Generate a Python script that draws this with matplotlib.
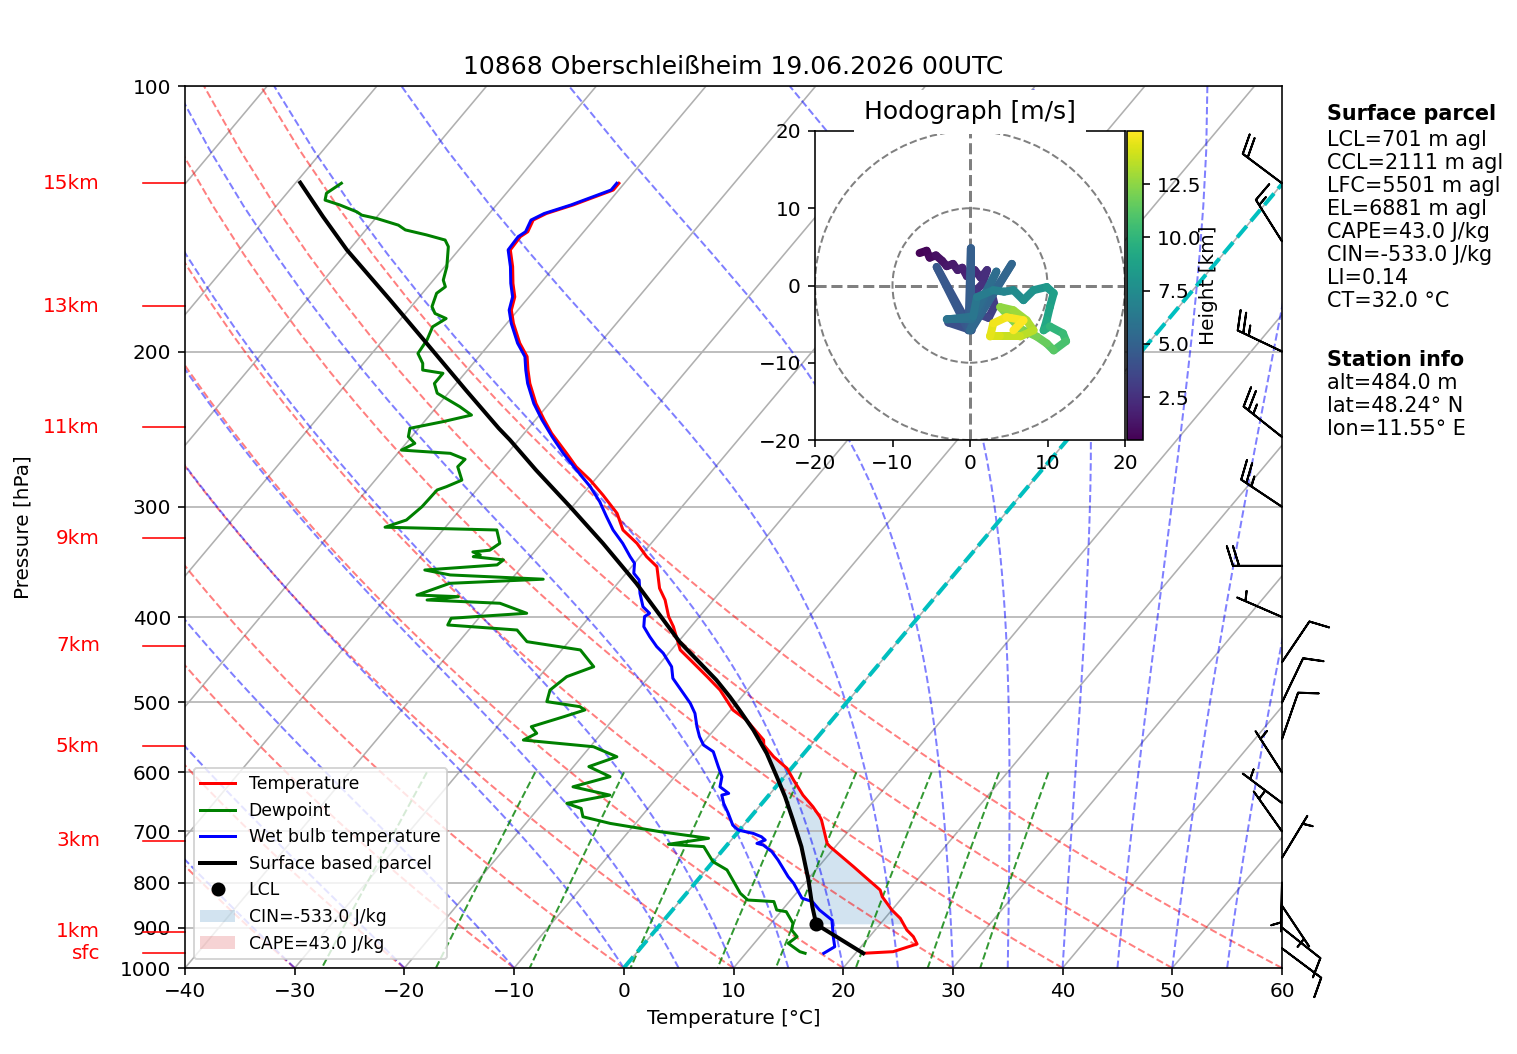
import numpy as np
import matplotlib
matplotlib.use('Agg')
import matplotlib.pyplot as plt
from matplotlib.collections import LineCollection
from matplotlib.patches import Circle
from matplotlib.ticker import NullLocator

# sounding: pressure [hPa], temperature [degC]
p_temp = [962.3, 958.3, 939.3, 921.5, 905.7, 878.3, 859.5, 830.1, 815.8, 781.2, 767.7, 728.4, 722.3,
          679.6, 673.8, 656.4, 636.8, 612.3, 593.8, 576.1, 558.7, 551.5, 523.4, 509.9, 484.0, 467.4,
          447.5, 435.9, 410.2, 399.6, 382.6, 371.1, 350.7, 341.7, 330.0, 318.7, 305.2, 290.9, 279.8,
          270.2, 260.9, 247.6, 239.1, 229.1, 217.4, 209.9, 202.7, 195.7, 185.8, 179.5, 173.4, 167.4,
          160.3, 153.4, 148.2, 146.3, 141.9, 139.5, 136.4, 134.7, 131.2, 128.9]
temp = [20.7, 23.3, 24.9, 24.0, 22.9, 21.4, 20.0, 18.1, 17.4, 14.4, 13.2, 9.5, 9.0,
        6.7, 6.3, 4.9, 3.1, 1.1, -0.4, -2.5, -4.3, -4.7, -7.8, -9.8, -12.5, -14.7,
        -17.5, -19.2, -21.6, -22.8, -24.4, -25.8, -27.7, -29.4, -31.3, -33.6, -35.4, -38.1, -40.4,
        -42.7, -44.6, -47.5, -49.2, -51.2, -53.3, -54.5, -55.6, -57.3, -59.4, -60.6, -61.3, -62.5,
        -63.8, -65.3, -65.4, -65.1, -65.5, -64.8, -63.0, -62.2, -60.5, -60.5]

p_dew = [962.3, 958.3, 937.6, 921.5, 905.7, 889.9, 863.3, 859.5, 840.8, 837.4, 822.8, 794.8, 774.1,
         757.7, 728.4, 724.0, 712.8, 700.6, 685.6, 673.8, 659.3, 650.6, 636.8, 623.1, 606.8, 591.1,
         576.1, 561.2, 551.5, 541.9, 532.6, 518.9, 509.9, 505.5, 498.9, 484.0, 467.4, 455.4, 447.5,
         435.9, 426.6, 413.8, 408.4, 401.3, 396.1, 385.9, 382.6, 379.3, 377.7, 366.3, 362.4, 358.4,
         353.8, 349.1, 344.6, 341.7, 340.1, 337.5, 336.0, 330.0, 318.7, 316.4, 310.5, 299.9, 287.1,
         284.6, 279.8, 270.2, 265.0, 260.9, 258.7, 254.2, 249.8, 244.4, 240.2, 236.1, 231.0, 223.0,
         217.4, 211.7, 209.9, 206.3, 201.0, 194.1, 187.5, 183.5, 181.1, 177.9, 171.8, 168.9, 166.0,
         160.3, 152.1, 149.5, 147.5, 145.6, 143.8, 141.3, 140.1, 138.9, 136.4, 134.7, 132.3, 128.9]
dew = [15.4, 14.8, 13.1, 13.4, 12.4, 12.0, 10.5, 9.5, 8.6, 6.1, 4.9, 3.2, 1.9,
       0.0, -2.0, -5.4, -2.2, -7.1, -12.3, -15.3, -16.1, -17.8, -14.5, -18.5, -15.9, -18.6,
       -16.8, -19.7, -26.6, -25.9, -26.9, -24.7, -23.3, -24.0, -27.4, -28.0, -27.5, -25.8, -26.8,
       -28.3, -33.8, -35.6, -42.3, -42.5, -36.0, -39.2, -46.1, -43.5, -47.4, -45.3, -37.1, -45.9,
       -48.6, -42.4, -42.2, -45.2, -44.7, -45.6, -44.2, -43.8, -45.1, -55.5, -54.1, -53.7, -53.6,
       -53.0, -52.1, -53.5, -53.4, -55.2, -59.9, -59.2, -60.3, -60.8, -58.3, -56.2, -57.9, -61.0,
       -62.0, -62.0, -64.1, -64.6, -65.8, -66.0, -66.5, -65.9, -67.3, -68.1, -68.7, -68.4, -69.1,
       -69.8, -71.2, -72.0, -74.1, -76.4, -77.4, -79.9, -81.5, -82.2, -84.3, -86.0, -86.4, -85.8]

p_wb = [962.3, 946.0, 921.5, 882.3, 859.5, 840.8, 833.4, 801.6, 788.0, 754.4, 738.1, 725.4, 722.3,
        716.0, 709.9, 703.7, 697.7, 688.7, 668.0, 650.6, 636.8, 633.9, 623.1, 606.8, 591.1, 568.5,
        558.7, 546.7, 532.6, 514.4, 501.0, 488.1, 469.4, 455.4, 439.6, 432.1, 421.0, 410.2, 399.6,
        396.1, 389.4, 376.0, 363.1, 356.8, 347.6, 341.7, 330.0, 318.7, 307.9, 295.9, 284.6, 272.6,
        260.9, 249.8, 239.1, 229.1, 217.4, 209.9, 202.7, 195.7, 185.8, 179.5, 173.4, 167.4, 160.3,
        153.4, 148.2, 146.3, 141.9, 139.5, 136.4, 134.7, 131.2, 128.9]
wetbulb = [17.1, 17.6, 16.7, 15.3, 13.4, 12.1, 10.9, 9.0, 8.0, 5.8, 4.6, 3.3, 2.6,
           3.1, 2.5, 1.5, -0.1, -1.0, -2.3, -3.5, -4.3, -3.8, -5.1, -5.7, -6.8, -8.4,
           -9.8, -10.8, -11.8, -13.0, -14.2, -15.6, -17.7, -18.7, -20.5, -21.6, -23.0, -24.3, -25.0,
           -24.8, -25.9, -27.2, -28.3, -29.3, -30.0, -30.9, -32.6, -34.5, -36.1, -37.9, -39.9, -42.4,
           -44.9, -47.2, -49.4, -51.4, -53.5, -54.7, -55.8, -57.5, -59.6, -60.8, -61.5, -62.7, -64.0,
           -65.5, -65.6, -65.3, -65.7, -65.0, -63.2, -62.4, -60.7, -60.7]

p_parcel = [962.3, 892.2, 852.2, 794.8, 728.4, 679.6, 639.5, 606.8, 571.0, 537.3, 509.9, 492.5, 471.5,
            426.6, 366.3, 330.0, 299.9, 272.6, 251.9, 244.4, 221.3, 195.7, 174.9, 153.4, 140.7, 128.7]
parcel = [20.7, 14.2, 12.5, 10.1, 6.9, 4.1, 1.6, -0.7, -3.4, -6.4, -9.2, -11.1, -13.6,
          -19.9, -28.3, -34.4, -40.2, -46.1, -50.8, -52.7, -58.6, -65.8, -72.4, -80.2, -84.9, -89.6]
lcl_p = 892.2
lcl_t = 14.2
cape = 43.0
cin = -533.0

# winds at the barb levels [kt]
p_wind = [128.9, 150, 200, 250, 300, 350, 400, 450, 500, 550, 600, 650, 700, 750, 800, 850, 900, 950]
u_wind = [16.0, 8.0, 22.5, 19.5, 20.7, 20.0, 4.6, -5.6, -4.3, -3.3, 2.7, 4.0, 2.9, -2.6, 0.1, -2.8, -7.8, -8.0]
v_wind = [-12.0, -12.7, -10.7, -15.5, -13.8, 0.0, -2.0, -8.3, -9.0, -9.5, -4.2, -3.0, -4.1, -4.3, 5.0, 4.2, 6.2, 6.0]

# hodograph trace [m/s] against height [km]
hodo_h = [0.48, 0.6, 0.75, 0.9, 1.05, 1.2, 1.35, 1.5, 1.65, 1.8, 1.95, 2.1, 2.25, 2.4, 2.55, 2.7, 2.85,
          3.0, 3.2, 3.4, 3.6, 3.8, 4.0, 4.2, 4.4, 4.6, 4.8, 5.0, 5.2, 5.4, 5.6, 5.8, 6.0, 6.2,
          6.5, 6.8, 7.1, 7.4, 7.7, 8.0, 8.3, 8.6, 8.9, 9.2, 9.6, 10.0, 10.4, 10.8, 11.2, 11.6,
          12.0, 12.3, 12.6, 12.9, 13.2, 13.5, 13.8, 14.1, 14.4, 14.7, 14.85, 15.0]
hodo_u = [-6.5, -5.6, -5.2, -4.4, -3.6, -3.0, -2.2, -1.6, -1.0, -0.4, 0.6, 1.4, 2.2, 1.6, 0.6, 1.8, 2.8,
          3.2, 2.4, 0.8, -1.6, -2.8, 0.2, -4.3, -0.2, 0.1, 0.1, 5.4, 0.0, 3.4, 0.2, -3.0, 0.4, 0.9,
          3.0, 4.4, 5.6, 6.9, 8.2, 9.9, 10.8, 10.3, 9.9, 9.5, 10.3, 12.0, 12.4, 10.8, 9.9, 8.6,
          6.5, 3.9, 5.6, 7.3, 8.2, 6.5, 3.9, 2.6, 3.0, 4.7, 6.9, 5.6]
hodo_v = [4.2, 4.5, 3.6, 3.9, 3.2, 2.5, 2.8, 2.0, 2.3, 1.2, 2.0, 1.0, 2.0, 0.2, -0.8, -1.8, -1.0,
          -2.6, -4.2, -3.6, -4.4, -4.8, -5.8, 2.4, -5.8, 4.8, -5.8, 2.8, -5.8, 1.8, -4.4, -4.4, -4.0, -1.5,
          -0.6, -0.8, -0.6, -1.9, -0.6, -0.2, -1.0, -2.8, -4.5, -5.8, -5.3, -6.2, -7.2, -8.4, -7.5, -6.6,
          -5.6, -2.8, -3.2, -4.5, -5.8, -6.6, -6.6, -6.6, -4.9, -4.1, -4.5, -5.8]

# height marks on the left
km_labels = ['15km', '13km', '11km', '9km', '7km', '5km', '3km', '1km', 'sfc']
km_p = [128.9, 177.6, 243.8, 325.7, 431.3, 560.2, 717.8, 909.7, 962.3]

title = '10868 Oberschleißheim 19.06.2026 00UTC'
parcel_info = ['LCL=701 m agl', 'CCL=2111 m agl', 'LFC=5501 m agl', 'EL=6881 m agl',
               'CAPE=43.0 J/kg', 'CIN=-533.0 J/kg', 'LI=0.14', 'CT=32.0 °C']
station_info = ['alt=484.0 m', 'lat=48.24° N', 'lon=11.55° E']

SKEW = 67.5  # degC shift per decade of pressure


def skew_x(t, p):
    return np.asarray(t, float) + SKEW * np.log10(1000.0 / np.asarray(p, float))


def moist_lapse(t0, pres):
    # pseudo-adiabats from 1000 hPa, rk4 in pressure
    Rd, cp, Lv, eps = 287.04749, 1004.6662, 2.50084e6, 0.6219569

    def dtdp(pp, tt):
        es = 6.112 * np.exp(17.67 * (tt - 273.15) / (tt - 29.65))
        rs = eps * es / (pp - es)
        return (Rd * tt + Lv * rs) / (cp + Lv * Lv * rs * eps / (Rd * tt * tt)) / pp

    t = np.asarray(t0, float) + 273.15
    pc = 1000.0
    out = []
    for pt in pres:
        n = max(int(abs(pc - pt) / 2.0), 1)
        h = (pt - pc) / n
        for _ in range(n):
            k1 = dtdp(pc, t)
            k2 = dtdp(pc + h / 2, t + h / 2 * k1)
            k3 = dtdp(pc + h / 2, t + h / 2 * k2)
            k4 = dtdp(pc + h, t + h * k3)
            t = t + h / 6 * (k1 + 2 * k2 + 2 * k3 + k4)
            pc += h
        out.append(t - 273.15)
    return np.array(out).T


DPI = 144
fig = plt.figure(figsize=(1517 / DPI, 1054 / DPI), dpi=DPI)
ax = fig.add_axes([185 / 1517, 86 / 1054, 1097 / 1517, 882 / 1054])
ax.set_yscale('log')

# background: isotherms, dry/moist adiabats, mixing ratio lines
p_bg = np.linspace(1000, 100, 50)
iso = [np.column_stack([skew_x([t, t], [1000, 100]), [1000, 100]]) for t in range(-160, 61, 10)]
ax.add_collection(LineCollection(iso, colors='#b0b0b0', linewidths=0.8, zorder=0.9))

t_dry = np.arange(-40, 61, 10)
dry = (t_dry[:, None] + 273.15) * (p_bg / 1000.0) ** 0.28571 - 273.15
ax.add_collection(LineCollection([np.column_stack([skew_x(d, p_bg), p_bg]) for d in dry],
                                 colors='r', linestyles='dashed', alpha=0.5, linewidths=1))

t_moist = np.concatenate((np.arange(-40, 0, 10), np.arange(0, 61, 5))).astype(float)
moist = moist_lapse(t_moist, p_bg)
ax.add_collection(LineCollection([np.column_stack([skew_x(m, p_bg), p_bg]) for m in moist],
                                 colors='b', linestyles='dashed', alpha=0.5, linewidths=1))

w_mix = np.array([0.0004, 0.001, 0.002, 0.004, 0.007, 0.01, 0.016, 0.024, 0.032])
p_mix = np.linspace(600, 1000, 50)
lne = np.log(p_mix[None, :] * w_mix[:, None] / (0.6219569 + w_mix[:, None]) / 6.112)
td_mix = 243.5 * lne / (17.67 - lne)
ax.add_collection(LineCollection([np.column_stack([skew_x(d, p_mix), p_mix]) for d in td_mix],
                                 colors='g', linestyles='dashed', alpha=0.8, linewidths=1))

ax.plot(skew_x([0, 0], [1000, 100]), [1000, 100], color='c', ls='--', lw=2)

# profiles
h_t, = ax.plot(skew_x(temp, p_temp), p_temp, 'r', lw=1.5, label='Temperature')
h_d, = ax.plot(skew_x(dew, p_dew), p_dew, 'g', lw=1.5, label='Dewpoint')
h_w, = ax.plot(skew_x(wetbulb, p_wb), p_wb, 'b', lw=1.5, label='Wet bulb temperature')
h_p, = ax.plot(skew_x(parcel, p_parcel), p_parcel, 'k', lw=2, label='Surface based parcel')
h_l, = ax.plot(skew_x(lcl_t, lcl_p), lcl_p, 'ko', ms=6, label='LCL')

# CIN / CAPE shading between LCL and EL
pf = np.exp(np.linspace(np.log(lcl_p), np.log(p_parcel[-1]), 800))
env = np.interp(-np.log(pf), -np.log(p_temp), temp)
par = np.interp(-np.log(pf), -np.log(p_parcel), parcel)
warm = par > env
idx = np.arange(pf.size)
i_lfc = np.argmax(warm)
i_el = i_lfc + np.argmax(~warm[i_lfc:])
h_cin = ax.fill_betweenx(pf, skew_x(par, pf), skew_x(env, pf), where=(~warm) & (idx <= i_lfc),
                         facecolor='tab:blue', alpha=0.2, interpolate=True, label=f'CIN={cin} J/kg')
h_cape = ax.fill_betweenx(pf, skew_x(par, pf), skew_x(env, pf),
                          where=warm & (idx >= i_lfc) & (idx <= i_el),
                          facecolor='tab:red', alpha=0.2, interpolate=True, label=f'CAPE={cape} J/kg')

ax.set_xlim(-40, 60)
ax.set_ylim(1000, 100)
ax.set_xticks(np.arange(-40, 61, 10))
levels = np.arange(100, 1001, 100)
ax.set_yticks(levels)
ax.set_yticklabels([str(v) for v in levels])
ax.yaxis.set_minor_locator(NullLocator())
ax.yaxis.grid(True)
ax.set_xlabel('Temperature [°C]')
ax.set_ylabel('Pressure [hPa]')
ax.yaxis.set_label_coords(-0.139, 0.5)
ax.set_title(title, fontsize=12.5)

ax.legend(handles=[h_t, h_d, h_w, h_p, h_l, h_cin, h_cape], loc='lower left', fontsize=8.6)

# wind barbs on the right edge
ax.barbs(np.ones(len(p_wind)), p_wind, u_wind, v_wind, transform=ax.get_yaxis_transform(),
         clip_on=False, zorder=2)

# height marks
tr = ax.get_yaxis_transform()
for lab, pk in zip(km_labels, km_p):
    ax.plot([-0.0383, 0], [pk, pk], color='red', lw=0.8, transform=tr, clip_on=False)
    ax.text(-0.0775, pk, lab, color='red', ha='right', va='center', fontsize=10, transform=tr)

# hodograph inset
hax = fig.add_axes([815 / 1517, 614 / 1054, 310 / 1517, 309 / 1054])
hax.set_xlim(-20, 20)
hax.set_ylim(-20, 20)
hax.set_xticks([-20, -10, 0, 10, 20])
hax.set_yticks([-20, -10, 0, 10, 20])
for r in (10, 20):
    hax.add_patch(Circle((0, 0), r, fill=False, edgecolor='grey', linestyle='--', lw=1))
hax.axhline(0, color='grey', ls='--', lw=1.5)
hax.axvline(0, color='grey', ls='--', lw=1.5)
pts = np.column_stack([hodo_u, hodo_v]).reshape(-1, 1, 2)
segs = np.concatenate([pts[:-1], pts[1:]], axis=1)
lc = LineCollection(segs, cmap='viridis', norm=plt.Normalize(min(hodo_h), max(hodo_h)),
                    linewidths=4, capstyle='round', joinstyle='round')
lc.set_array(np.asarray(hodo_h[1:]))
hax.add_collection(lc)
hax.set_title('Hodograph [m/s]', fontsize=12.5,
              bbox=dict(facecolor='white', edgecolor='none', pad=5))

cax = fig.add_axes([1127 / 1517, 614 / 1054, 16 / 1517, 309 / 1054])
cb = fig.colorbar(lc, cax=cax)
cb.set_ticks([2.5, 5.0, 7.5, 10.0, 12.5])
cb.set_label('Height [km]')
cax.yaxis.set_label_coords(4.5, 0.5)

# parcel and station text on the right
x_txt = 1327 / 1517
fs_txt = 10.4
fig.text(x_txt, 1 - 114 / 1054, 'Surface parcel', fontsize=fs_txt, fontweight='bold', va='center')
for i, s in enumerate(parcel_info):
    fig.text(x_txt, 1 - (140 + 23.0 * i) / 1054, s, fontsize=fs_txt, va='center')
fig.text(x_txt, 1 - 360 / 1054, 'Station info', fontsize=fs_txt, fontweight='bold', va='center')
for i, s in enumerate(station_info):
    fig.text(x_txt, 1 - (383.3 + 23.0 * i) / 1054, s, fontsize=fs_txt, va='center')

fig.savefig('out.png', dpi=DPI)
